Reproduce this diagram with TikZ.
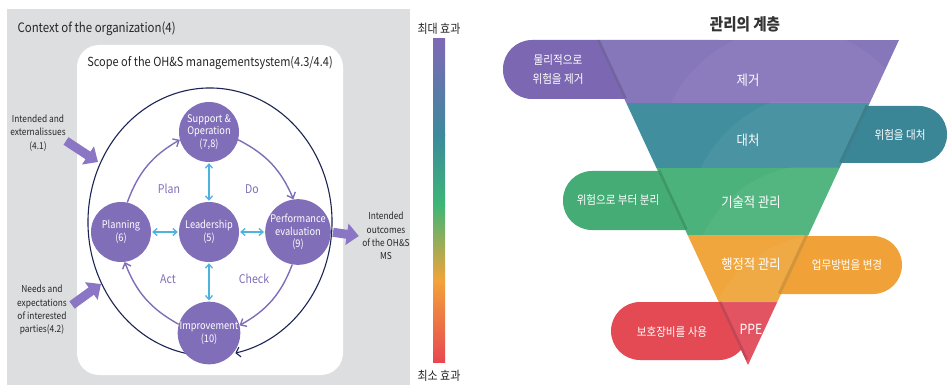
\documentclass[tikz,border=0pt]{standalone}
\usepackage{fontspec}
\setmainfont{Noto Sans CJK KR}[FakeStretch=0.88]
\usetikzlibrary{arrows.meta}
\definecolor{bgray}{RGB}{221,222,224}
\definecolor{nodep}{RGB}{128,110,184}
\definecolor{blkp}{RGB}{138,118,196}
\definecolor{lblue}{RGB}{78,178,222}
\definecolor{navy}{RGB}{28,36,84}
\definecolor{cpur}{RGB}{126,104,182}
\definecolor{cteal}{RGB}{60,138,156}
\definecolor{cgrn}{RGB}{62,182,118}
\definecolor{cora}{RGB}{242,163,58}
\definecolor{cred}{RGB}{232,72,80}
\definecolor{bpur}{RGB}{134,118,186}
\definecolor{ppur}{RGB}{124,104,178}
\definecolor{btea}{RGB}{64,142,158}
\definecolor{ptea}{RGB}{58,134,150}
\definecolor{bgrn}{RGB}{74,178,122}
\definecolor{pgrn}{RGB}{70,172,118}
\definecolor{bora}{RGB}{240,166,60}
\definecolor{pora}{RGB}{240,162,56}
\definecolor{bred}{RGB}{226,84,98}
\definecolor{pred}{RGB}{228,74,84}
\tikzset{
  circ/.style={circle, fill=nodep, minimum size=60pt, inner sep=0pt, text=white, align=center, font=\fontsize{10.5}{12.5}\selectfont},
  cyc/.style={draw=nodep, line width=1.4pt, -{Straight Barb[length=5pt,width=9pt]}},
  lead/.style={draw=lblue, line width=1.3pt, {Straight Barb[length=4pt,width=7pt]}-{Straight Barb[length=4pt,width=7pt]}},
  blk/.style={draw=blkp, line width=9pt, -{Triangle[length=12pt,width=21pt]}},
  side/.style={align=center, text=black!85, font=\fontsize{9.5}{13.3}\selectfont},
  cyl/.style={text=nodep, font=\fontsize{12}{14}\selectfont},
  barl/.style={text=black!85, font=\fontsize{12.5}{14}\selectfont},
  bandl/.style={text=white, font=\fontsize{14}{16}\selectfont},
  pilll/.style={text=white, align=center, font=\fontsize{12}{19}\selectfont},
}
\begin{document}
\begin{tikzpicture}[x=1pt,y=-1pt]
\useasboundingbox (0,0) rectangle (948,385);
% ---------- left panel ----------
\fill[bgray] (7,9) rectangle (410,385);
\node[anchor=west, text=black!85, font=\fontsize{13}{15}\selectfont] (ctx) at (14,29) {Context of the organization(4)};
\fill[white, rounded corners=22pt] (77,45) rectangle (343,375);
\node[text=black!85, font=\fontsize{12.5}{14}\selectfont] (scope) at (210,63) {Scope of the OH\&S managementsystem(4.3/4.4)};
\coordinate (E) at (210,222);
\draw[navy, line width=1.1pt, -{Straight Barb[length=4pt,width=10pt]}] ([shift={(259:122pt and 134pt)}]E) arc[start angle=259, end angle=-78, x radius=122pt, y radius=134pt];
\node[circ] (sup) at (209,132) {Support \&\\Operation\\(7,8)};
\node[circ] (pln) at (121,232) {Planning\\(6)};
\node[circ] (lead) at (209,232) {Leadership\\(5)};
\node[circ] (perf) at (298,232) {Performance\\evaluation\\(9)};
\node[circ] (imp) at (209,333) {Improvement\\(10)};
\draw[cyc] (pln.78) to[bend left=20] (sup.195);
\draw[cyc] (sup.-15) to[bend left=20] (perf.98);
\draw[cyc] (perf.260) to[bend left=20] (imp.14);
\draw[cyc] (imp.164) to[bend left=20] (pln.277);
\draw[lead, shorten <=1pt, shorten >=1pt] (sup) -- (lead);
\draw[lead, shorten <=1pt, shorten >=1pt] (lead) -- (pln);
\draw[lead, shorten <=1pt, shorten >=1pt] (lead) -- (perf);
\draw[lead, shorten <=1pt, shorten >=1pt] (lead) -- (imp);
\node[cyl] (plan) at (169,189) {Plan};
\node[cyl] (do) at (252,189) {Do};
\node[cyl] (act) at (168,279) {Act};
\node[cyl] (chk) at (254,279) {Check};
\node[side] (ext) at (38,133) {Intended and\\externalissues\\(4.1)};
\coordinate (a1s) at (66,141);
\coordinate (a1e) at (98,162);
\draw[blk] (a1s) -- (a1e);
\node[side] (need) at (42,310) {Needs and\\expectations\\of interested\\parties(4.2)};
\coordinate (a2s) at (72,305);
\coordinate (a2e) at (101,284);
\draw[blk] (a2s) -- (a2e);
\node[side] (out) at (386,236) {Intended\\outcomes\\of the OH\&S\\MS};
\draw[blk, shorten <=2pt] (perf.east) -- (out.west);
% ---------- colour bar ----------
\shade[top color=cpur, bottom color=cteal] (433,39) rectangle (445,135.5);
\shade[top color=cteal, bottom color=cgrn] (433,135) rectangle (445,205.5);
\shade[top color=cgrn, bottom color=cora] (433,205) rectangle (445,280.5);
\shade[top color=cora, bottom color=cred] (433,280) rectangle (445,362);
\node[barl] (bmax) at (439,29) {최대 효과};
\node[barl] (bmin) at (439,376) {최소 효과};
% ---------- hierarchy ----------
\node[text=black!80, font=\bfseries\fontsize{16.5}{18}\selectfont] (ttl) at (745,24) {관리의 계층};
\fill[ppur, rounded corners=29pt] (748,40) -- (503,40) -- (503,99) -- (748,99) -- cycle;
\fill[ptea, rounded corners=28pt] (748,106) -- (947,106) -- (947,163) -- (748,163) -- cycle;
\fill[pgrn, rounded corners=29pt] (748,171) -- (563,171) -- (563,230) -- (748,230) -- cycle;
\fill[pora, rounded corners=29pt] (748,236) -- (902,236) -- (902,294) -- (748,294) -- cycle;
\fill[pred, rounded corners=29pt] (748,302) -- (611,302) -- (611,360) -- (748,360) -- cycle;
\begin{scope}
  \clip (597,40) -- (899,40) -- (748,365) -- cycle;
  \fill[bpur] (590,40) rectangle (905,103);
  \fill[btea] (590,103) rectangle (905,168);
  \fill[bgrn] (590,168) rectangle (905,235);
  \fill[bora] (590,235) rectangle (905,302);
  \fill[bred] (590,302) rectangle (905,366);
  \begin{scope}
    \clip (590,40) rectangle (905,103);
    \fill[white, opacity=0.05] (790,160) circle[radius=132pt];
  \end{scope}
  \begin{scope}
    \clip (590,103) rectangle (905,168);
    \fill[white, opacity=0.05] (820,225) circle[radius=132pt];
  \end{scope}
  \begin{scope}
    \clip (590,168) rectangle (905,235);
    \fill[white, opacity=0.05] (815,290) circle[radius=125pt];
  \end{scope}
  \begin{scope}
    \clip (590,235) rectangle (905,302);
    \fill[white, opacity=0.05] (825,355) circle[radius=120pt];
  \end{scope}
  \draw[black, opacity=0.15, line width=5pt] (597,40) -- (624.4,99);
  \draw[black, opacity=0.15, line width=5pt] (868.1,106) -- (841.5,163);
  \draw[black, opacity=0.15, line width=5pt] (657.9,171) -- (685.3,230);
  \draw[black, opacity=0.12, line width=5pt] (807.3,236) -- (780.2,294);
  \draw[black, opacity=0.15, line width=5pt] (718.7,302) -- (745.7,360);
\end{scope}
\node[bandl] (l1) at (748,80) {제거};
\node[bandl] (l2) at (748,140) {대처};
\node[bandl] (l3) at (751,202) {기술적 관리};
\node[bandl] (l4) at (751,264) {행정적 관리};
\node[bandl] (l5) at (751,329) {PPE};
\node[pilll] (p1) at (558,70) {물리적으로\\위험을 제거};
\node[pilll] (p2) at (900,135) {위험을 대처};
\node[pilll] (p3) at (618,200) {위험으로 부터 분리};
\node[pilll] (p4) at (847,265) {업무방법을 변경};
\node[pilll] (p5) at (672,332) {보호장비를 사용};
\end{tikzpicture}
\end{document}
